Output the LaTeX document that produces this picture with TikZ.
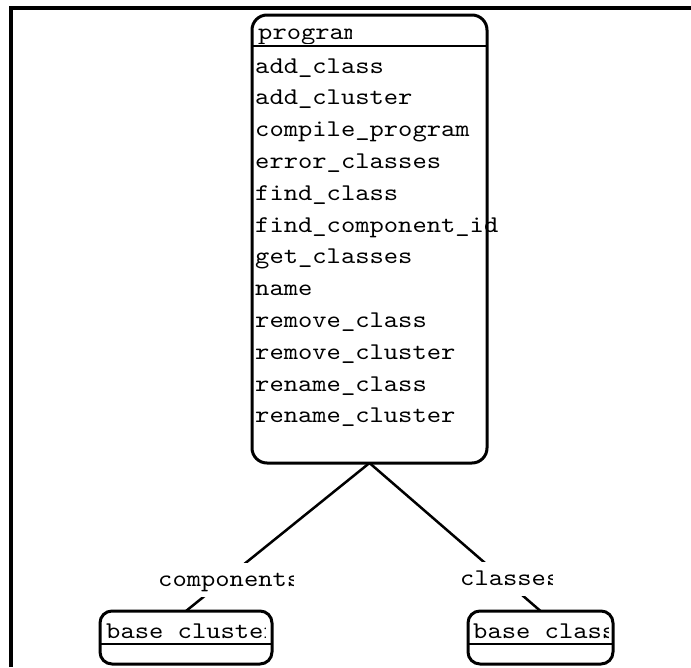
\documentclass[tikz,border=0pt]{standalone}
\usepackage{fontspec}
\newfontfamily\umlfont{lmmono10-regular.otf}[FakeStretch=1.135]
\usepackage{tikz}

\begin{document}
\begin{tikzpicture}[x=1pt,y=-1pt,
  classbox/.style={draw,line width=3pt,rounded corners=#1,inner sep=0pt,outer sep=0pt},
  classbox/.default=12pt,
  member/.style={anchor=base west,inner sep=0pt,font=\umlfont\fontsize{24}{24}\selectfont},
  rolelabel/.style={member,fill=white,text height=17pt,text depth=5pt,inner ysep=6pt}]
\useasboundingbox (0,0) rectangle (691,667);
\draw[line width=3.5pt] (11,667) -- (11,8) -- (691,8);

% classes
\node[classbox=15pt,minimum width=235pt,minimum height=448pt] (program) at (369.5,239) {};
\node[classbox,minimum width=172pt,minimum height=53pt] (cluster) at (186,637.5) {};
\node[classbox,minimum width=145pt,minimum height=53pt] (class) at (540.5,637.5) {};
\draw[line width=2.3pt] (program.west |- 0,46) -- (program.east |- 0,46);
\draw[line width=2.3pt] (cluster.west |- 0,644) -- (cluster.east |- 0,644);
\draw[line width=2.3pt] (class.west |- 0,644) -- (class.east |- 0,644);

\begin{scope}
\clip (254,17) rectangle (351,43);
\node[member] (programname) at (258,39.5) {program};
\end{scope}
\begin{scope}
\clip (101,613) rectangle (265,642);
\node[member] (clustername) at (106,638) {base cluster};
\end{scope}
\begin{scope}
\clip (470,613) rectangle (608,642);
\node[member] (classname) at (473,638) {base class};
\end{scope}

% operations
\node[member] (addclass) at (255,73) {add\_class};
\node[member] (addcluster) at (255,104.8) {add\_cluster};
\node[member] (compileprogram) at (255,136.6) {compile\_program};
\node[member] (errorclasses) at (255,168.4) {error\_classes};
\node[member] (findclass) at (255,200.2) {find\_class};
\node[member] (findcomponentid) at (255,232) {find\_component\_id};
\node[member] (getclasses) at (255,263.8) {get\_classes};
\node[member] (name) at (255,295.6) {name};
\node[member] (removeclass) at (255,327.4) {remove\_class};
\node[member] (removecluster) at (255,359.2) {remove\_cluster};
\node[member] (renameclass) at (255,391) {rename\_class};
\node[member] (renamecluster) at (255,422.8) {rename\_cluster};

% associations
\draw[line width=2.5pt] (program.south) -- (cluster.north);
\draw[line width=2.5pt] (program.south) -- (class.north);
\begin{scope}
\clip (150,560) rectangle (293,600);
\node[rolelabel] (components) at (158,586) {components};
\end{scope}
\begin{scope}
\clip (450,560) rectangle (552,600);
\node[rolelabel] (classes) at (460,585) {classes};
\end{scope}
\end{tikzpicture}
\end{document}
